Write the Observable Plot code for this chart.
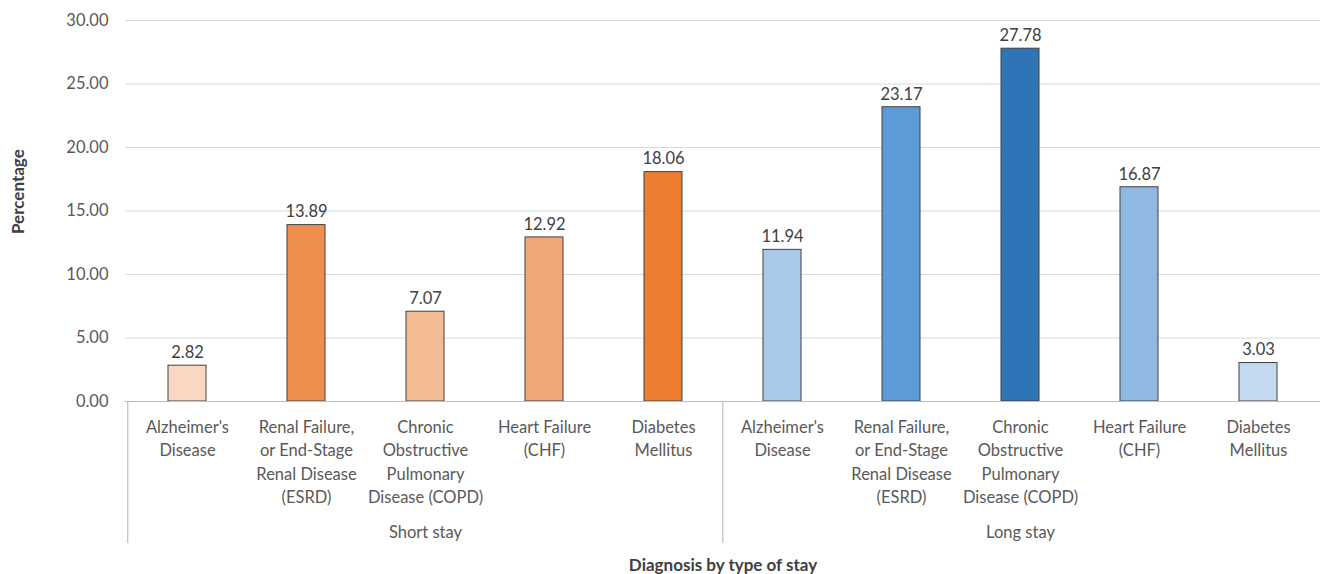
<!DOCTYPE html>
<html>
<head>
<meta charset="utf-8">
<script src="https://cdn.jsdelivr.net/npm/d3@7"></script>
<script src="https://cdn.jsdelivr.net/npm/@observablehq/plot@0.6"></script>
<style>
  html, body { margin: 0; padding: 0; background: #fff; }
</style>
</head>
<body>
<div id="chart"></div>
<script>
const groups = ["Short stay", "Long stay"];
const categories = [
  "Alzheimer's\nDisease",
  "Renal Failure,\nor End-Stage\nRenal Disease\n(ESRD)",
  "Chronic\nObstructive\nPulmonary\nDisease (COPD)",
  "Heart Failure\n(CHF)",
  "Diabetes\nMellitus"
];
const shortStay = [2.82, 13.89, 7.07, 12.92, 18.06];
const longStay = [11.94, 23.17, 27.78, 16.87, 3.03];
const shortColors = ["#f9d7c0", "#ef8f4e", "#f4bc94", "#f2a876", "#ed7d31"];
const longColors = ["#a9c9e9", "#5b9bd7", "#2e75b6", "#8fb9e1", "#c3d9ef"];
const yTicks = [0, 5, 10, 15, 20, 25, 30];

const seriesValues = {"Short stay": shortStay, "Long stay": longStay};
const seriesColors = {"Short stay": shortColors, "Long stay": longColors};
const rows = [];
for (const g of groups) {
  categories.forEach((c, i) => {
    rows.push({key: g + "|" + i, group: g, label: c, value: seriesValues[g][i], color: seriesColors[g][i]});
  });
}
const keys = rows.map(d => d.key);
const labelOf = new Map(rows.map(d => [d.key, d.label]));
const groupStarts = groups.map(g => g + "|0");
const groupMids = groups.map(g => ({key: g + "|2", name: g}));

const W = 1320, H = 574, ML = 125, MR = 0;
const step = (W - ML - MR) / keys.length;

const chart = Plot.plot({
  width: W,
  height: H,
  marginLeft: ML,
  marginRight: MR,
  marginTop: 20,
  marginBottom: 173,
  style: {fontFamily: "Lato, 'Open Sans', sans-serif", fontSize: "16.5px", background: "#fff"},
  x: {domain: keys, paddingInner: 0.68, paddingOuter: 0.34, axis: null},
  y: {domain: [0, 30], axis: null},
  marks: [
    Plot.gridY(yTicks, {stroke: "#d9d9d9", strokeOpacity: 1}),
    Plot.axisY(yTicks, {
      tickSize: 0, tickPadding: 17, tickFormat: d => d.toFixed(2),
      fill: "#595959", fontSize: 16.5, label: null
    }),
    Plot.barY(rows, {x: "key", y: "value", fill: "color", stroke: "#404040", strokeWidth: 1}),
    Plot.text(rows, {x: "key", y: "value", text: d => d.value.toFixed(2), dy: -13, fill: "#404040", fontSize: 16.5}),
    Plot.ruleY([0], {stroke: "#bfbfbf", strokeWidth: 1.2}),
    Plot.axisX(keys, {
      tickSize: 0, tickPadding: 15, tickFormat: k => labelOf.get(k),
      lineHeight: 1.41, fill: "#595959", fontSize: 16.5, label: null
    }),
    Plot.ruleX(groupStarts, {x: d => d, dx: -step / 2, insetTop: 381, insetBottom: -142, stroke: "#bfbfbf", strokeWidth: 1.2}),
    Plot.text(groupMids, {x: "key", text: "name", frameAnchor: "bottom", dy: 136, fill: "#595959", fontSize: 16.5}),
    Plot.text(["Diagnosis by type of stay"], {text: d => d, frameAnchor: "bottom", dy: 169, fontWeight: "bold", fill: "#404040", fontSize: 17}),
    Plot.text(["Percentage"], {text: d => d, frameAnchor: "left", dx: -107, dy: 23, rotate: -90, fontWeight: "bold", fill: "#404040", fontSize: 17})
  ]
});
document.getElementById("chart").appendChild(chart);
</script>
</body>
</html>
